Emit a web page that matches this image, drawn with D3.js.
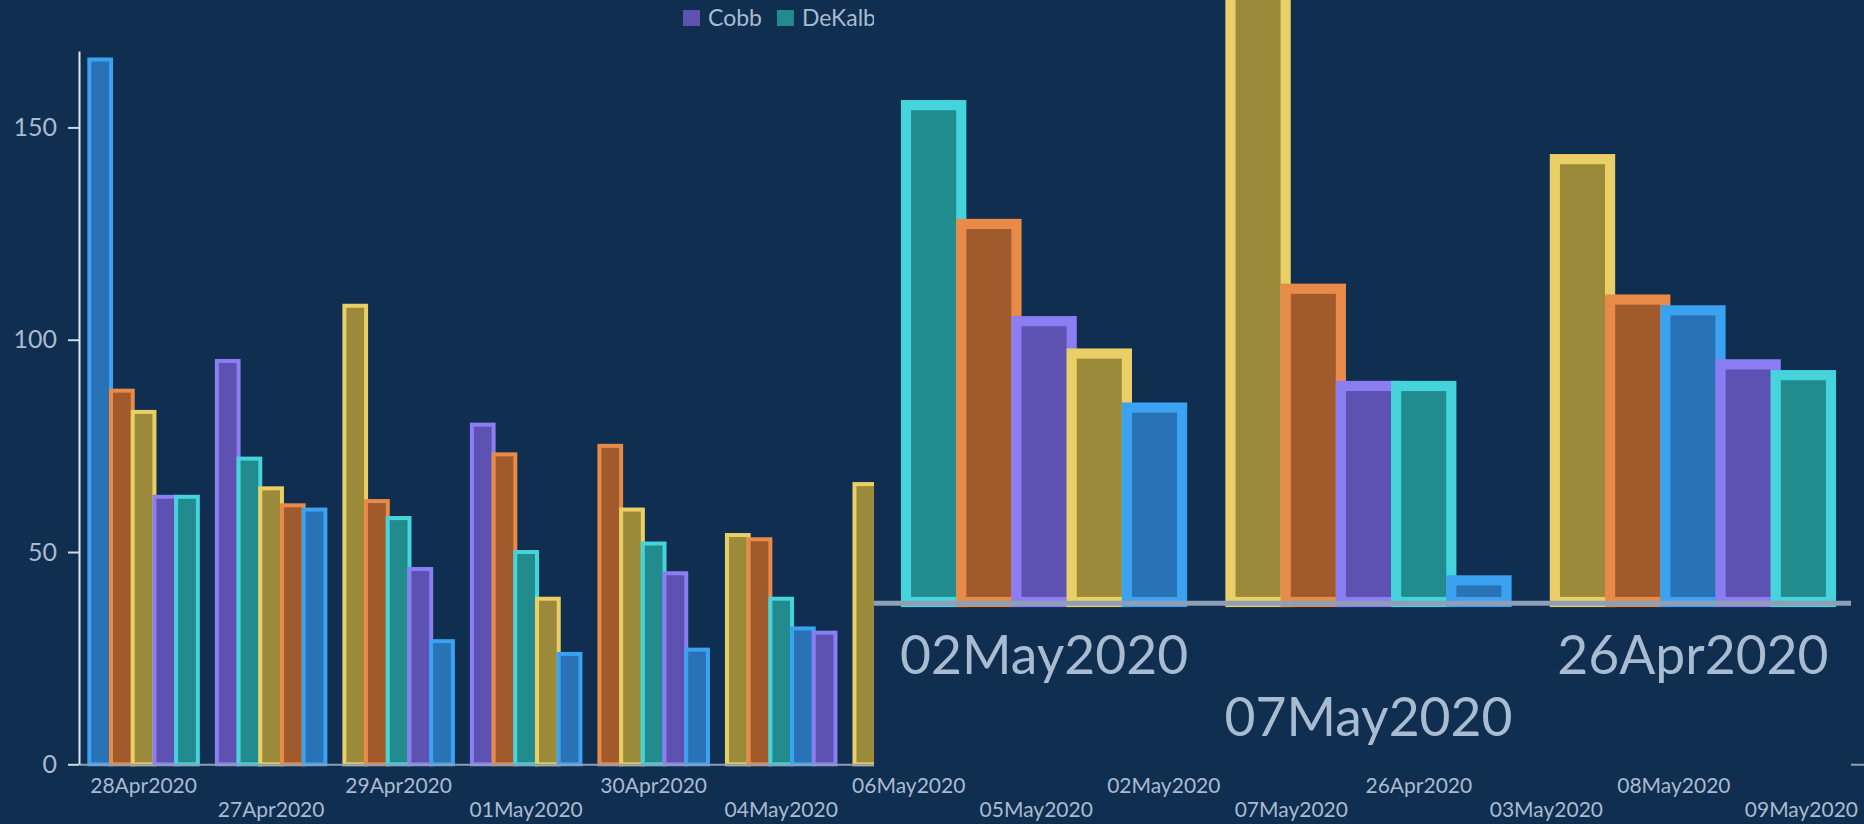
<!DOCTYPE html>
<html>
<head>
<meta charset="utf-8">
<script src="https://cdn.jsdelivr.net/npm/d3@7"></script>
<style>
  html, body { margin: 0; padding: 0; background: #0f2e50; overflow: hidden; }
  svg { display: block; font-family: Lato, 'Open Sans', sans-serif; }
</style>
</head>
<body>
<div id="chart"></div>
<script>
'use strict';

// Dates in the order the chart shows them.
const dates = ['28Apr2020', '27Apr2020', '29Apr2020', '01May2020', '30Apr2020', '04May2020', '06May2020',
  '05May2020', '02May2020', '07May2020', '26Apr2020', '03May2020', '08May2020', '09May2020'];

const counties = ['Cobb', 'DeKalb', 'Fulton', 'Gwinnett', 'Hall'];

// Cases per county, one value per date above (null = no bar).
// todo: 06May (except Hall), 05May, 03May, 08May, 09May and 07May Hall sit under the zoom box; guessed.
const cobb     = [63, 95, 46, 80, 45, 31, 35, 36, 26, 20, 22, 24, 34, 30];
const dekalb   = [63, 72, 58, 50, 52, 39, 41, 44, 46, 20, 21, 30, 38, 41];
const fulton   = [166, 60, 29, 26, 27, 32, 22, 21, 18, 2, 27, 17, 25, null];
const gwinnett = [88, 61, 62, 73, 75, 53, 48, 52, 35, 29, 28, 27, 47, 39];
const hall     = [83, 65, 108, 39, 60, 54, 66, 40, 23, 72, 41, 33, 58, 55];

const yTicks = [0, 50, 100, 150];

const fills   = { Cobb: '#5d52b1', DeKalb: '#218b8d', Fulton: '#2872b5', Gwinnett: '#a05a2b', Hall: '#9b8a3a' };
const strokes = { Cobb: '#8a7ef2', DeKalb: '#45d3dc', Fulton: '#3ba1f1', Gwinnett: '#e98b48', Hall: '#e9cf66' };

const width = 1864;
const height = 824;
const bg = '#0f2e50';
const textColor = '#a9bbd1';
const font = 'Lato, "Open Sans", sans-serif';

const series = [cobb, dekalb, fulton, gwinnett, hall];
const groups = dates.map((date, i) => ({
  date: date,
  bars: d3.sort(
    counties.map((c, k) => ({ county: c, value: series[k][i] })).filter(d => d.value != null),
    (a, b) => b.value - a.value)
}));

const x = d3.scaleBand().domain(dates).range([79, 1866]).paddingInner(0.149).paddingOuter(0.081);
const xSub = d3.scaleBand().domain(d3.range(counties.length)).range([0, x.bandwidth()]);
const y = d3.scaleLinear().domain([0, 168]).range([764.3, 51]);


function drawChart($g, { keep = () => true, yAxis = true } = {}) {
  const shown = groups.filter(d => keep(d.date));

  // Bars, tallest first so the smaller ones sit over the right edge.
  const $groups = $g.selectAll('.group')
    .data(shown)
    .enter()
    .append('g')
    .attr('class', 'group')
    .attr('transform', d => 'translate(' + x(d.date) + ',0)');

  $groups.selectAll('rect')
    .data(d => d.bars)
    .enter()
    .append('rect')
    .attr('x', (d, i) => xSub(i))
    .attr('y', d => y(d.value))
    .attr('width', xSub.bandwidth())
    .attr('height', d => y(0) - y(d.value))
    .attr('fill', d => fills[d.county])
    .attr('stroke', d => strokes[d.county])
    .attr('stroke-width', 4);

  // X axis with staggered labels (stagger follows the full date list).
  const $x = $g.append('g')
    .attr('transform', 'translate(0,' + y(0) + ')')
    .call(d3.axisBottom(x).tickSize(0).tickSizeOuter(0));
  $x.select('.domain').attr('stroke', '#8e9fb6').attr('stroke-width', 2);
  $x.selectAll('.tick').filter(d => !keep(d)).remove();
  $x.selectAll('text')
    .attr('dy', 0)
    .attr('y', d => dates.indexOf(d) % 2 ? 52.7 : 28.4)
    .attr('fill', textColor)
    .style('font-family', font)
    .style('font-size', '21px');

  if(!yAxis) return;
  const $y = $g.append('g')
    .attr('transform', 'translate(79,0)')
    .call(d3.axisLeft(y).tickValues(yTicks).tickSize(11).tickPadding(11).tickSizeOuter(0));
  $y.select('.domain').attr('stroke', '#dfe6ee').attr('stroke-width', 2);
  $y.selectAll('.tick line').attr('stroke', '#cfd9e4').attr('stroke-width', 2);
  $y.selectAll('text')
    .attr('fill', textColor)
    .style('font-family', font)
    .style('font-size', '25px');
}


function drawLegend($g) {
  let pos = 683;
  counties.forEach(c => {
    $g.append('rect')
      .attr('x', pos).attr('y', 10)
      .attr('width', 17).attr('height', 16)
      .attr('fill', fills[c]);
    const $t = $g.append('text')
      .attr('x', pos + 25).attr('y', 26)
      .attr('fill', textColor)
      .style('font-family', font)
      .style('font-size', '23px')
      .text(c);
    pos += 25 + $t.node().getComputedTextLength() + 15;
  });
}


const $svg = d3.select('#chart').append('svg')
  .attr('width', width)
  .attr('height', height);

$svg.append('rect').attr('width', width).attr('height', height).attr('fill', bg);

drawLegend($svg.append('g').attr('class', 'legend'));
drawChart($svg.append('g').attr('class', 'main'));

// Magnified copy of the same chart, pasted over the right side.
const zoomBox = { x0: 874, y0: 0, x1: 1851, y1: 770 };
const zoomScale = 2.544;
const zoomShift = [-1916.6, -1342.4];
const toZoom = v => zoomShift[0] + zoomScale * v;

$svg.append('clipPath').attr('id', 'zoom-clip')
  .append('rect')
  .attr('x', zoomBox.x0).attr('y', zoomBox.y0)
  .attr('width', zoomBox.x1 - zoomBox.x0).attr('height', zoomBox.y1 - zoomBox.y0);

const $zoom = $svg.append('g').attr('clip-path', 'url(#zoom-clip)');
$zoom.append('rect')
  .attr('x', zoomBox.x0).attr('y', zoomBox.y0)
  .attr('width', zoomBox.x1 - zoomBox.x0).attr('height', zoomBox.y1 - zoomBox.y0)
  .attr('fill', bg);

// Only the dates whose magnified band lands inside the box.
const inZoom = d => toZoom(x(d)) >= zoomBox.x0 && toZoom(x(d) + x.bandwidth()) <= zoomBox.x1;
drawChart(
  $zoom.append('g').attr('transform', 'translate(' + zoomShift + ') scale(' + zoomScale + ')'),
  { keep: inZoom, yAxis: false });
</script>
</body>
</html>
